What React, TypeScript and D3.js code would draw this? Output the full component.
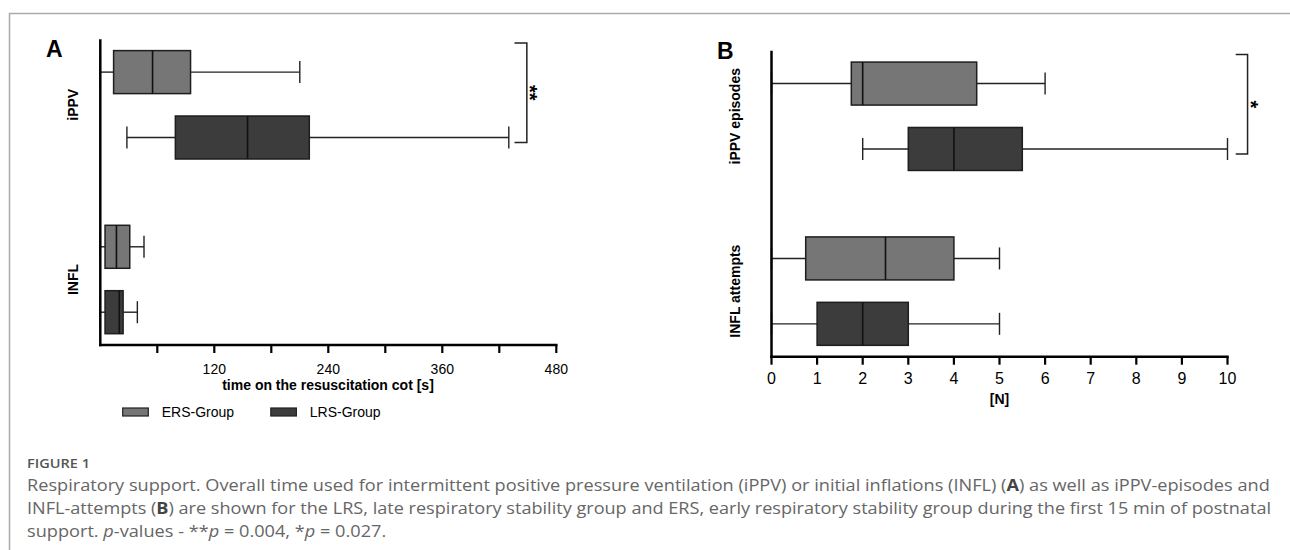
import React, { useRef, useLayoutEffect, useState } from 'react';
import * as d3 from 'd3';

const seriesNames = ['ERS-Group', 'LRS-Group'];
const seriesFill = ['#767676', '#3c3c3c'];

// panel A: time on the resuscitation cot [s]  -> [min, q1, median, q3, max]
const groupsA = ['iPPV', 'INFL'];
const timeERS = [[0, 14, 55, 95, 210], [0, 5, 17, 31, 46]];
const timeLRS = [[28, 79, 155, 220, 430], [0, 5, 20, 24, 39]];
const timeTicks = [60, 120, 180, 240, 300, 360, 420, 480];
const timeTickLabels = [120, 240, 360, 480];

// panel B: counts [N]
const groupsB = ['iPPV episodes', 'INFL attempts'];
const countERS = [[0, 1.75, 2, 4.5, 6], [0, 0.75, 2.5, 4, 5]];
const countLRS = [[2, 3, 4, 5.5, 10], [0, 1, 2, 3, 5]];
const countTicks = [0, 1, 2, 3, 4, 5, 6, 7, 8, 9, 10];

const FONT = '"Liberation Sans", Arial, Helvetica, sans-serif';

function BoxPanel({ letter, letterX, letterY, groups, ers, lrs, domain, xRange, yRange,
  ticks, tickLabels, tickSize, title, titleX, titleY, labelX, bracket, sig, legend }) {
  const x = d3.scaleLinear().domain(domain).range(xRange);
  const yg = d3.scalePoint().domain(groups).range(yRange).padding(0.375);
  const off = 32.7;
  const boxH = 43;
  const capH = 22;
  const axisY = yRange[1];

  const boxes = [];
  groups.forEach((g, gi) => {
    [ers, lrs].forEach((series, si) => {
      const [mn, q1, med, q3, mx] = series[gi];
      const cy = yg(g) + (si === 0 ? -off : off);
      boxes.push(
        <g key={g + si}>
          <line x1={x(mn)} x2={x(q1)} y1={cy} y2={cy} stroke="#222" strokeWidth={1.4} />
          <line x1={x(q3)} x2={x(mx)} y1={cy} y2={cy} stroke="#222" strokeWidth={1.4} />
          <line x1={x(mn)} x2={x(mn)} y1={cy - capH / 2} y2={cy + capH / 2} stroke="#222" strokeWidth={1.4} />
          <line x1={x(mx)} x2={x(mx)} y1={cy - capH / 2} y2={cy + capH / 2} stroke="#222" strokeWidth={1.4} />
          <rect x={x(q1)} y={cy - boxH / 2} width={x(q3) - x(q1)} height={boxH}
            fill={seriesFill[si]} stroke="#1e1e1e" strokeWidth={1.5} />
          <line x1={x(med)} x2={x(med)} y1={cy - boxH / 2} y2={cy + boxH / 2} stroke="#111" strokeWidth={1.6} />
        </g>
      );
    });
  });

  const topY = yg(groups[0]) - off - 29;
  const botY = yg(groups[0]) + off + 5;
  const bx0 = x(bracket[0]);
  const bx1 = x(bracket[1]);

  return (
    <g fontFamily={FONT}>
      <text x={letterX} y={letterY} fontSize={23} fontWeight="bold">{letter}</text>
      {boxes}
      {/* axes */}
      <line x1={xRange[0]} x2={xRange[0]} y1={yRange[0]} y2={axisY + 1.25} stroke="#000" strokeWidth={2.5} />
      <line x1={xRange[0] - 1.25} x2={xRange[1] + 1.25} y1={axisY} y2={axisY} stroke="#000" strokeWidth={2.5} />
      {ticks.map(t => (
        <line key={t} x1={x(t)} x2={x(t)} y1={axisY} y2={axisY + 8} stroke="#000" strokeWidth={2.2} />
      ))}
      {tickLabels.map(t => (
        <text key={t} x={x(t)} y={axisY + (tickSize > 14 ? 27 : 28.5)} fontSize={tickSize} textAnchor="middle">{t}</text>
      ))}
      <text x={titleX} y={titleY} fontSize={14} fontWeight="bold" textAnchor="middle">{title}</text>
      {groups.map(g => (
        <text key={g} transform={`translate(${labelX},${yg(g)}) rotate(-90)`} fontSize={14}
          fontWeight="bold" textAnchor="middle">{g}</text>
      ))}
      {/* significance bracket */}
      <path d={`M${bx0},${topY}H${bx1}V${botY}H${bx0}`} fill="none" stroke="#222" strokeWidth={1.5} />
      <text transform={`translate(${bx1 - 3.5},${(topY + botY) / 2}) rotate(90)`} fontSize={20}
        fontWeight="bold" textAnchor="middle">{sig}</text>
      {legend && seriesNames.map((s, i) => (
        <g key={s}>
          <rect x={legend.x[i]} y={legend.y - 4} width={25.6} height={8} fill={seriesFill[i]} stroke="#222" strokeWidth={1.2} />
          <text x={legend.x[i] + 39} y={legend.y + 5} fontSize={14}>{s}</text>
        </g>
      ))}
    </g>
  );
}

export default function App() {
  const line1Ref = useRef(null);
  const [sx, setSx] = useState(1);

  useLayoutEffect(() => {
    if (line1Ref.current) {
      const w = line1Ref.current.getComputedTextLength();
      if (w > 0) setSx(1244 / w);
    }
  }, []);

  const capFont = '"Open Sans", "Noto Sans", sans-serif';

  return (
    <svg width={1290} height={550} style={{ position: 'absolute', left: 0, top: 0, background: '#fff' }}>
      <path d="M9.5,550V13.5H1290" fill="none" stroke="#aaa" strokeWidth={1.5} />

      <BoxPanel letter="A" letterX={46} letterY={57} groups={groupsA} ers={timeERS} lrs={timeLRS}
        domain={[0, 480]} xRange={[100.3, 556.3]} yRange={[39.3, 345]}
        ticks={timeTicks} tickLabels={timeTickLabels} tickSize={14}
        title="time on the resuscitation cot [s]" titleX={328} titleY={390} labelX={78}
        bracket={[436, 449]} sig="**" legend={{ x: [122.7, 270.8], y: 412 }} />

      <BoxPanel letter="B" letterX={717} letterY={58.5} groups={groupsB} ers={countERS} lrs={countLRS}
        domain={[0, 10]} xRange={[771.5, 1227.5]} yRange={[50.7, 356.7]}
        ticks={countTicks} tickLabels={countTicks} tickSize={16}
        title="[N]" titleX={999.5} titleY={404} labelX={740}
        bracket={[10.18, 10.44]} sig="*" legend={null} />

      <text x={27} y={468} fontFamily={capFont} fontSize={13} fontWeight={600} fill="#555"
        textLength={63} lengthAdjust="spacingAndGlyphs">FIGURE 1</text>
      <g transform={`translate(27,0) scale(${sx},1)`} fontFamily={capFont} fontSize={16} fill="#666">
        <text ref={line1Ref} x={0} y={491}>
          Respiratory support. Overall time used for intermittent positive pressure ventilation (iPPV) or initial inflations (INFL) (<tspan fontWeight="bold" fill="#444">A</tspan>) as well as iPPV-episodes and
        </text>
        <text x={0} y={514} textLength={1244 / sx} lengthAdjust="spacingAndGlyphs">
          INFL-attempts (<tspan fontWeight="bold" fill="#444">B</tspan>) are shown for the LRS, late respiratory stability group and ERS, early respiratory stability group during the first 15 min of postnatal
        </text>
        <text x={0} y={537}>
          support. <tspan fontStyle="italic">p</tspan>-values - **<tspan fontStyle="italic">p</tspan> = 0.004, *<tspan fontStyle="italic">p</tspan> = 0.027.
        </text>
      </g>
    </svg>
  );
}
